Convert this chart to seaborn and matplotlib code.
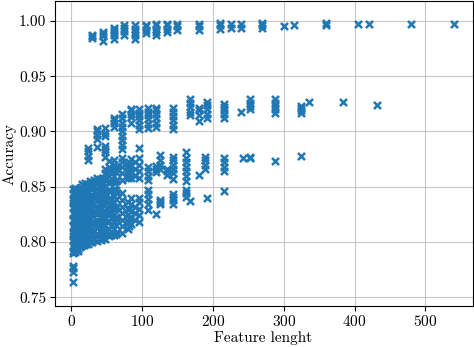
# Scatter of accuracy vs feature length
import seaborn as sns
import matplotlib.pyplot as plt
import pandas as pd

# top band (~0.99)
top_x = [30, 45, 60, 75, 90, 105, 120, 135, 150, 180, 210, 225, 240, 270, 300, 315, 360, 405, 420, 480, 540]
top_y = [
    [0.985, 0.986, 0.987],
    [0.982, 0.986, 0.988, 0.990],
    [0.984, 0.987, 0.990, 0.992, 0.994],
    [0.987, 0.991, 0.994, 0.996],
    [0.984, 0.987, 0.990, 0.993, 0.996],
    [0.989, 0.992, 0.995, 0.996],
    [0.987, 0.990, 0.993, 0.996, 0.997],
    [0.990, 0.993, 0.996, 0.997],
    [0.992, 0.995, 0.997],
    [0.992, 0.995, 0.997],
    [0.993, 0.996, 0.998],
    [0.994, 0.997],
    [0.994, 0.997],
    [0.994, 0.996, 0.998],
    [0.995],
    [0.996],
    [0.996, 0.998],
    [0.997],
    [0.997],
    [0.997],
    [0.997],
]

# second band (~0.90-0.93)
mid_x = [24, 36, 48, 60, 72, 84, 96, 108, 120, 144, 168, 180, 192, 216, 240, 252, 288, 324, 336, 384, 432]
mid_y = [
    [0.874, 0.878, 0.882, 0.885],
    [0.886, 0.893, 0.897, 0.900, 0.902],
    [0.877, 0.881, 0.884, 0.887, 0.896, 0.899, 0.903],
    [0.904, 0.908, 0.910, 0.912],
    [0.884, 0.888, 0.892, 0.896, 0.900, 0.904, 0.908, 0.912, 0.916],
    [0.908, 0.913, 0.916, 0.919, 0.920],
    [0.885, 0.902, 0.906, 0.910, 0.914, 0.917, 0.920],
    [0.903, 0.907, 0.911, 0.915, 0.918, 0.921],
    [0.904, 0.908, 0.912, 0.916, 0.919, 0.921],
    [0.902, 0.906, 0.910, 0.914, 0.918, 0.921],
    [0.915, 0.918, 0.922, 0.926, 0.929],
    [0.909, 0.915, 0.919, 0.921],
    [0.912, 0.916, 0.920, 0.924, 0.927],
    [0.912, 0.916, 0.919, 0.922, 0.925],
    [0.918],
    [0.920, 0.923, 0.926, 0.929],
    [0.917, 0.920, 0.923, 0.926, 0.929],
    [0.917, 0.919, 0.921, 0.923],
    [0.927],
    [0.927],
    [0.924],
]

# third band (~0.86-0.88)
b9_x = [108, 120, 126, 135, 144, 162, 180, 189, 216, 243, 252, 288, 324]
b9_y = [
    [0.856, 0.860, 0.864, 0.868],
    [0.863, 0.866, 0.869],
    [0.866, 0.870, 0.874, 0.879],
    [0.861, 0.864, 0.866],
    [0.857, 0.862, 0.866, 0.870, 0.874, 0.877],
    [0.855, 0.860, 0.864, 0.868, 0.872, 0.876, 0.881],
    [0.861],
    [0.866, 0.870, 0.874, 0.877],
    [0.864, 0.868, 0.872, 0.876],
    [0.876],
    [0.876, 0.877],
    [0.873],
    [0.878],
]

# fourth band (~0.83-0.85)
b6_x = [108, 120, 126, 144, 162, 168, 192, 216]
b6_y = [
    [0.829, 0.834, 0.839, 0.843, 0.847],
    [0.825],
    [0.834, 0.836, 0.838],
    [0.834, 0.838, 0.841, 0.843],
    [0.841, 0.844, 0.847],
    [0.837],
    [0.840],
    [0.846],
]

# dense cluster at short lengths
low_x = [2, 3, 4, 6, 8, 9, 10, 12, 14, 15, 16, 18, 20, 21, 24, 27, 28, 30, 32, 36,
         40, 42, 45, 48, 54, 56, 60, 63, 64, 72, 80, 81, 84, 90, 96]
low_y = [
    [0.764, 0.773, 0.776, 0.778, 0.792, 0.805, 0.820, 0.835],
    [0.790, 0.796, 0.802, 0.808, 0.814, 0.820, 0.826, 0.832, 0.838, 0.844, 0.848],
    [0.792, 0.799, 0.806, 0.813, 0.819, 0.825, 0.831, 0.837, 0.843],
    [0.791, 0.797, 0.803, 0.809, 0.815, 0.821, 0.827, 0.833, 0.839, 0.845, 0.849],
    [0.793, 0.800, 0.807, 0.814, 0.821, 0.828, 0.835, 0.842, 0.847],
    [0.794, 0.801, 0.808, 0.815, 0.822, 0.829, 0.836, 0.843],
    [0.792, 0.804, 0.816, 0.828, 0.840, 0.846],
    [0.795, 0.801, 0.807, 0.813, 0.819, 0.825, 0.831, 0.837, 0.843, 0.849],
    [0.796, 0.805, 0.814, 0.823, 0.832, 0.841, 0.850],
    [0.797, 0.803, 0.809, 0.815, 0.821, 0.827, 0.833, 0.839, 0.845],
    [0.798, 0.806, 0.814, 0.822, 0.830, 0.838, 0.846, 0.852],
    [0.797, 0.803, 0.809, 0.815, 0.821, 0.827, 0.833, 0.839, 0.845, 0.851],
    [0.799, 0.807, 0.815, 0.823, 0.831, 0.839, 0.847, 0.853],
    [0.798, 0.805, 0.812, 0.819, 0.826, 0.833, 0.840, 0.847],
    [0.798, 0.804, 0.810, 0.816, 0.822, 0.828, 0.834, 0.840, 0.846, 0.852],
    [0.800, 0.807, 0.814, 0.821, 0.828, 0.835, 0.842, 0.849, 0.855],
    [0.801, 0.809, 0.817, 0.825, 0.833, 0.841, 0.849],
    [0.800, 0.806, 0.812, 0.818, 0.824, 0.830, 0.836, 0.842, 0.848, 0.854],
    [0.802, 0.810, 0.818, 0.826, 0.834, 0.842, 0.850, 0.856],
    [0.801, 0.807, 0.813, 0.819, 0.825, 0.831, 0.837, 0.843, 0.849, 0.855, 0.858],
    [0.803, 0.811, 0.819, 0.827, 0.835, 0.843, 0.851, 0.857],
    [0.802, 0.809, 0.816, 0.823, 0.830, 0.837, 0.844, 0.851, 0.856],
    [0.804, 0.810, 0.816, 0.822, 0.828, 0.834, 0.840, 0.846, 0.852, 0.858],
    [0.803, 0.809, 0.815, 0.821, 0.827, 0.833, 0.839, 0.845, 0.851, 0.857, 0.862, 0.866],
    [0.805, 0.812, 0.819, 0.826, 0.833, 0.840, 0.847, 0.854, 0.860, 0.864, 0.868, 0.873],
    [0.806, 0.814, 0.822, 0.830, 0.838, 0.846, 0.854, 0.862],
    [0.806, 0.812, 0.818, 0.824, 0.830, 0.836, 0.842, 0.848, 0.854, 0.860, 0.866, 0.870, 0.874],
    [0.807, 0.815, 0.823, 0.831, 0.839, 0.847, 0.855, 0.863, 0.868],
    [0.809, 0.820, 0.832, 0.844, 0.856, 0.866],
    [0.808, 0.814, 0.820, 0.826, 0.832, 0.838, 0.844, 0.856, 0.862, 0.868, 0.872, 0.876],
    [0.812, 0.818, 0.824, 0.830, 0.836, 0.858, 0.864, 0.870],
    [0.814, 0.822, 0.830, 0.860, 0.866, 0.872],
    [0.816, 0.822, 0.828, 0.834, 0.840, 0.858, 0.864, 0.870, 0.875],
    [0.820, 0.826, 0.832, 0.860, 0.866, 0.872],
    [0.818, 0.824, 0.830, 0.836, 0.840, 0.858, 0.864, 0.870, 0.876],
]

rows = []
for xs, ys in [(top_x, top_y), (mid_x, mid_y), (b9_x, b9_y), (b6_x, b6_y), (low_x, low_y)]:
    for x, yl in zip(xs, ys):
        for y in yl:
            rows.append((x, y))
df = pd.DataFrame(rows, columns=['length', 'accuracy'])

# LaTeX-like look
plt.rcParams['font.family'] = 'cmr10'
plt.rcParams['mathtext.fontset'] = 'cm'
plt.rcParams['axes.formatter.use_mathtext'] = True
plt.rcParams['font.size'] = 11
plt.rcParams['xtick.major.pad'] = 2.5
plt.rcParams['ytick.major.pad'] = 2.5

fig, ax = plt.subplots(figsize=(4.74, 3.47), dpi=100)
fig.subplots_adjust(left=0.115, right=0.997, top=0.997, bottom=0.118)

sns.scatterplot(data=df, x='length', y='accuracy', marker='x', s=26,
                linewidth=1.8, color='#1f77b4', ax=ax)

ax.set_xlim(-23.5, 566.5)
ax.set_ylim(0.742, 1.018)
ax.set_xticks([0, 100, 200, 300, 400, 500])
ax.set_yticks([0.75, 0.80, 0.85, 0.90, 0.95, 1.00])
ax.set_yticklabels(['0.75', '0.80', '0.85', '0.90', '0.95', '1.00'])
ax.grid(True, color='#b0b0b0', linewidth=0.8, alpha=0.7)
ax.set_axisbelow(True)

ax.set_xlabel('Feature lenght', labelpad=1)
ax.set_ylabel('Accuracy', labelpad=2)

plt.savefig('out.png', dpi=100)
